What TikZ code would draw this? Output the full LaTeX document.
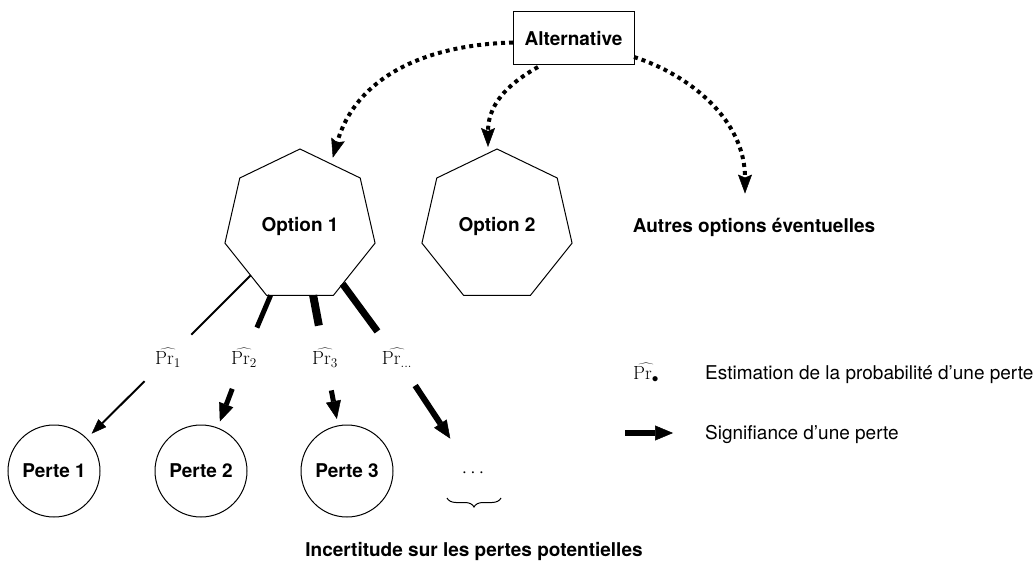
\RequirePackage{fix-cm}
\documentclass[tikz,border=0pt]{standalone}
\usepackage[no-math]{fontspec}
\setmainfont{TeX Gyre Heros}
\usetikzlibrary{shapes.geometric,arrows.meta,calc,decorations.pathreplacing}
\begin{document}
\begin{tikzpicture}[x=1pt,y=-1pt,
  font=\fontsize{19}{23}\selectfont,
  boldtext/.style={font=\fontsize{19}{23}\selectfont\bfseries},
  altbox/.style={draw, line width=1pt, minimum width=121pt, minimum height=53pt, inner sep=0pt, outer sep=0pt, boldtext},
  optpoly/.style={draw, line width=1pt, regular polygon, regular polygon sides=7, minimum size=154pt, inner sep=0pt, outer sep=0pt, boldtext},
  loss/.style={draw, circle, line width=1pt, minimum size=92pt, inner sep=0pt, outer sep=0pt, boldtext},
  prob/.style={circle, minimum size=66pt, inner sep=0pt, outer sep=0pt},
  dotarr/.style={line width=4pt, dash pattern=on 4pt off 4pt, -{Stealth[length=19pt,width=14pt,inset=3pt,line width=0.5pt]}},
  sigthin/.style={-{Triangle[length=15pt,width=11pt,line width=0.5pt]}},
  sig/.style={-{Triangle[length=18pt,width=15pt,line width=0.5pt]}}
]
\useasboundingbox (0,0) rectangle (1036,561);

% nodes
\node[altbox] (alt) at (573.5,38.5) {Alternative};
\node[optpoly] (opt1) at (300,226) {Option 1};
\node[optpoly] (opt2) at (497,226) {Option 2};
\node[boldtext, inner sep=0pt] (autres) at (754,227) {Autres options éventuelles};

\node[prob] (pr1) at (168,358) {$\widehat{\Pr_1}$};
\node[prob] (pr2) at (244,358) {$\widehat{\Pr_2}$};
\node[prob] (pr3) at (325,358) {$\widehat{\Pr_3}$};
\node[prob] (prd) at (397,358) {$\widehat{\Pr_{\ldots}}$};

\node[loss] (p1) at (54,471) {Perte 1};
\node[loss] (p2) at (201,471) {Perte 2};
\node[loss] (p3) at (347,471) {Perte 3};
\node[circle, minimum size=68pt, inner sep=0pt] (dots) at (473,473) {$\cdots$};
\coordinate (br1) at (501,498);
\coordinate (br2) at (447,498);
\draw[line width=1pt, decorate, decoration={brace, amplitude=9pt}] (br1) -- (br2);
\node[boldtext, anchor=base] (unc) at (474,556) {Incertitude sur les pertes potentielles};

% legend
\node[inner sep=0pt] (prl) at (646,373) {$\widehat{\Pr_\bullet}$};
\node[anchor=base west, inner sep=0pt] (est) at (705,379) {Estimation de la probabilité d’une perte};
\coordinate (la1) at (625,433);
\coordinate (la2) at (673,433);
\draw[sig, line width=6pt] (la1) -- (la2);
\node[anchor=base west, inner sep=0pt] (sgn) at (705,439) {Signifiance d’une perte};

% dotted arrows
\draw[dotarr] ($(alt.west)+(0,4)$) .. controls (420,45) and (355,80) .. ($(opt1.60)+(-2,-8)$);
\draw[dotarr] ($(alt.south west)+(25,2)$) .. controls (515,80) and (488,100) .. ($(opt2.north)+(-9,-2)$);
\draw[dotarr] ($(alt.south east)+(0,-8)$) .. controls (690,75) and (745,120) .. ($(autres.north)+(-9,-24)$);

% option 1 to probabilities
\draw[line width=2pt] (opt1) -- (pr1);
\draw[line width=5pt] (opt1) -- (pr2);
\draw[line width=8pt] (opt1) -- (pr3);
\draw[line width=7pt] (opt1) -- (prd);

% probabilities to losses
\draw[sigthin, line width=2pt, shorten >=7pt] (pr1) -- (p1);
\draw[sig, line width=5pt, shorten >=7pt] (pr2) -- (p2);
\draw[sig, line width=5pt, shorten >=7pt] (pr3) -- (p3);
\draw[sig, line width=6pt, shorten >=7pt] (prd) -- (dots);
\end{tikzpicture}
\end{document}
